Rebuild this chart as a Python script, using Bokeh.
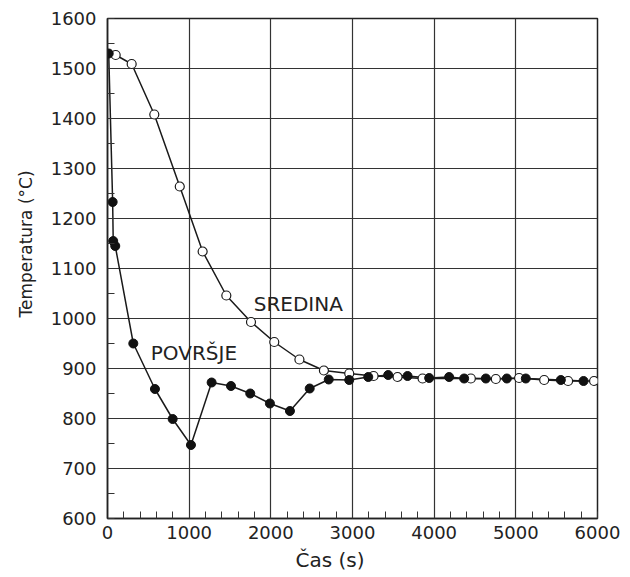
from bokeh.plotting import figure
from bokeh.models import Range1d, SingleIntervalTicker, Label, Title
from bokeh.embed import file_html
from bokeh.resources import INLINE

# SREDINA (centre) - open circles
sred_t = [0, 100, 296, 573, 885, 1165, 1455, 1757, 2042, 2350, 2650, 2960, 3258, 3552, 3858, 4449, 4755, 5040, 5347, 5640, 5958]
sred_T = [1530, 1527, 1509, 1408, 1264, 1134, 1046, 993, 953, 918, 896, 890, 885, 883, 880, 880, 879, 881, 877, 875, 875]

# POVRSJE (surface) - filled circles
pov_t = [15, 63, 70, 95, 316, 581, 798, 1022, 1275, 1512, 1748, 1989, 2234, 2476, 2709, 2960, 3193, 3437, 3674, 3939, 4183, 4367, 4633, 4890, 5122, 5551, 5829]
pov_T = [1530, 1233, 1155, 1145, 950, 859, 799, 747, 872, 865, 850, 830, 815, 860, 878, 877, 883, 887, 885, 881, 883, 880, 880, 880, 880, 877, 875]

x_ticks_major = 1000
y_ticks_major = 100
x_label = "Čas (s)"
y_label = "Temperatura (°C)"
lbl_sred = ("SREDINA", 1790, 1030)
lbl_pov = ("POVRŠJE", 530, 932)

FONT = "DejaVu Sans"
INK = "#222222"

p = figure(width=630, height=577, output_backend="svg", toolbar_location=None,
           x_range=Range1d(0, 6000), y_range=Range1d(600, 1600))
p.min_border_left = 107
p.min_border_right = 33
p.min_border_top = 18
p.min_border_bottom = 59
p.background_fill_color = "white"
p.border_fill_color = "white"
p.outline_line_color = INK
p.outline_line_width = 1.5

p.xaxis.ticker = SingleIntervalTicker(interval=x_ticks_major, num_minor_ticks=5)
p.yaxis.ticker = SingleIntervalTicker(interval=y_ticks_major, num_minor_ticks=2)
for ax in (p.xaxis[0], p.yaxis[0]):
    ax.major_tick_in = 0
    ax.major_tick_out = 0
    ax.minor_tick_in = 7
    ax.minor_tick_out = 0
    ax.minor_tick_line_color = "#333333"
    ax.axis_line_color = INK
    ax.axis_line_width = 1.5
    ax.major_label_text_font = FONT
    ax.major_label_text_font_size = "18px"
    ax.major_label_text_color = INK
p.xaxis.major_label_standoff = 7
p.yaxis.major_label_standoff = 11

p.xgrid.grid_line_color = "#333333"
p.ygrid.grid_line_color = "#333333"
p.xgrid.grid_line_width = 1.2
p.ygrid.grid_line_width = 1.2

p.line(sred_t, sred_T, line_color="#1a1a1a", line_width=1.5)
p.line(pov_t, pov_T, line_color="#1a1a1a", line_width=1.5)
p.scatter(sred_t[1:], sred_T[1:], size=9, marker="circle", fill_color="white", line_color="#1a1a1a", line_width=1.2)
p.scatter(pov_t, pov_T, size=9, marker="circle", fill_color="#111111", line_color="#111111")

for txt, tx, ty in (lbl_sred, lbl_pov):
    p.add_layout(Label(x=tx, y=ty, text=txt, text_font=FONT, text_font_size="20px",
                       text_color=INK, text_baseline="middle", text_align="left"))

# axis titles, slightly off-centre as in the reference
p.add_layout(Title(text=x_label, text_font=FONT, text_font_size="20px", text_font_style="normal",
                   text_color=INK, align="left", offset=188, standoff=9), "below")
p.add_layout(Title(text=y_label, text_font=FONT, text_font_size="17px", text_font_style="normal",
                   text_color=INK, align="left", offset=201, standoff=24), "left")

open("out.html", "w").write(file_html(p, INLINE))
